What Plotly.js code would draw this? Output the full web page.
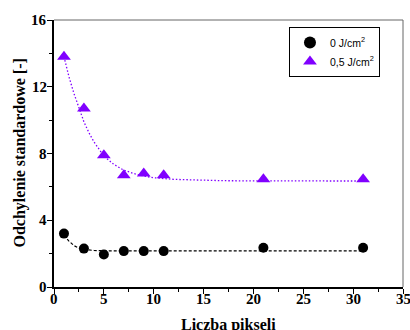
<!DOCTYPE html>
<html><head><meta charset="utf-8">
<script src="https://cdn.plot.ly/plotly-3.0.1.min.js"></script>
<style>
html,body{margin:0;padding:0;background:#fff}
#c{width:410px;height:330px}
#c text{font-family:"Liberation Serif","Times New Roman",serif !important;font-weight:700 !important}
#c .legend text{font-family:"Liberation Sans",Arial,sans-serif !important;font-weight:400 !important}
</style>
</head><body><div id="c"></div>
<script>
// measured points
const xPts = [1, 3, 5, 7, 9, 11, 21, 31];
const y0 = [3.2, 2.3, 1.95, 2.15, 2.15, 2.15, 2.35, 2.35];
const y05 = [13.8, 10.7, 7.9, 6.7, 6.8, 6.7, 6.45, 6.45];
// fitted curves
const fitX = [1, 1.5, 2, 2.5, 3, 3.5, 4, 5, 6, 7, 8, 9, 10, 12, 14, 17, 20, 25, 31];
const fit0 = [3.1, 2.75, 2.48, 2.33, 2.25, 2.21, 2.19, 2.17, 2.17, 2.17, 2.17, 2.17, 2.17, 2.17, 2.17, 2.17, 2.17, 2.17, 2.17];
const fit05 = [13.8, 12.6, 11.6, 10.7, 9.9, 9.25, 8.7, 7.85, 7.35, 7.0, 6.8, 6.65, 6.55, 6.45, 6.4, 6.37, 6.36, 6.35, 6.35];
const xTicks = [0, 5, 10, 15, 20, 25, 30, 35];
const yTicks = [0, 4, 8, 12, 16];
const xMinor = [2.5, 7.5, 12.5, 17.5, 22.5, 27.5, 32.5];
const yMinor = [2, 6, 10, 14];
const xTitle = 'Liczba pikseli';
const yTitle = 'Odchylenie standardowe [-]';
const legendNames = ['0 J/cm<sup>2</sup>', '0,5 J/cm<sup>2</sup>'];
const purple = '#8000ff';

const traces = [
  {x: fitX, y: fit0, mode: 'lines', line: {color: '#000', width: 1.2, dash: '3px,2px'}, showlegend: false, hoverinfo: 'skip'},
  {x: fitX, y: fit05, mode: 'lines', line: {color: purple, width: 1.3, dash: '1.5px,2px'}, showlegend: false, hoverinfo: 'skip'},
  {x: xPts, y: y0, mode: 'markers', name: legendNames[0], marker: {symbol: 'circle', size: 10, color: '#000'}},
  {x: xPts, y: y05, mode: 'markers', name: legendNames[1], marker: {symbol: 'triangle-up', size: 12, color: purple}}
];

const serif = 'Liberation Serif';
const tickFont = {family: serif, size: 15, color: '#000'};
const annotations = [];
xTicks.forEach(v => annotations.push({xref: 'x', yref: 'paper', x: v, y: 0, yshift: -3, xanchor: 'center', yanchor: 'top',
  text: '<b>' + v + '</b>', showarrow: false, font: tickFont, borderpad: 0}));
yTicks.forEach(v => annotations.push({xref: 'paper', yref: 'y', x: 0, y: v, xshift: -6, xanchor: 'right', yanchor: 'middle',
  text: '<b>' + v + '</b>', showarrow: false, font: tickFont, borderpad: 0}));
annotations.push({xref: 'paper', yref: 'paper', x: 0.5, y: 0, yshift: -28, xanchor: 'center', yanchor: 'top',
  text: '<b>' + xTitle + '</b>', showarrow: false, font: {family: serif, size: 16, color: '#000'}, borderpad: 0});
annotations.push({xref: 'paper', yref: 'paper', x: 0, y: 0.5, xshift: -35, xanchor: 'center', yanchor: 'middle', textangle: -90,
  text: '<b>' + yTitle + '</b>', showarrow: false, font: {family: serif, size: 16, color: '#000'}, borderpad: 0});

const layout = {
  width: 410, height: 330,
  margin: {l: 54, r: 7, t: 20, b: 43},
  font: {family: serif, size: 14, color: '#000'},
  paper_bgcolor: '#fff', plot_bgcolor: '#fff',
  showlegend: true,
  legend: {x: 0.934, xanchor: 'right', y: 0.974, yanchor: 'top', bgcolor: '#fff',
           bordercolor: '#000', borderwidth: 1, font: {family: 'Liberation Sans', size: 10.5, color: '#000'},
           tracegroupgap: 0, itemsizing: 'constant'},
  xaxis: {range: [0, 35], tickmode: 'array', tickvals: xTicks, showticklabels: false, showgrid: false, zeroline: false,
          showline: true, linecolor: '#000', linewidth: 2, ticks: 'outside', ticklen: 5, tickwidth: 1, tickcolor: '#000',
          minor: {tickvals: xMinor, ticks: 'outside', ticklen: 3, tickwidth: 1, tickcolor: '#000'}},
  yaxis: {range: [0, 16], tickmode: 'array', tickvals: yTicks, showticklabels: false, showgrid: false, zeroline: false,
          showline: true, linecolor: '#000', linewidth: 2, ticks: 'outside', ticklen: 5, tickwidth: 1, tickcolor: '#000',
          minor: {tickvals: yMinor, ticks: 'outside', ticklen: 3, tickwidth: 1, tickcolor: '#000'}},
  annotations: annotations,
  shapes: [
    {type: 'line', xref: 'paper', yref: 'paper', x0: 0, x1: 1, y0: 1, y1: 1, line: {color: '#666', width: 1}},
    {type: 'line', xref: 'paper', yref: 'paper', x0: 1, x1: 1, y0: 0, y1: 1, line: {color: '#666', width: 1}}
  ]
};
Plotly.newPlot('c', traces, layout, {displayModeBar: false, staticPlot: true});
</script></body></html>
